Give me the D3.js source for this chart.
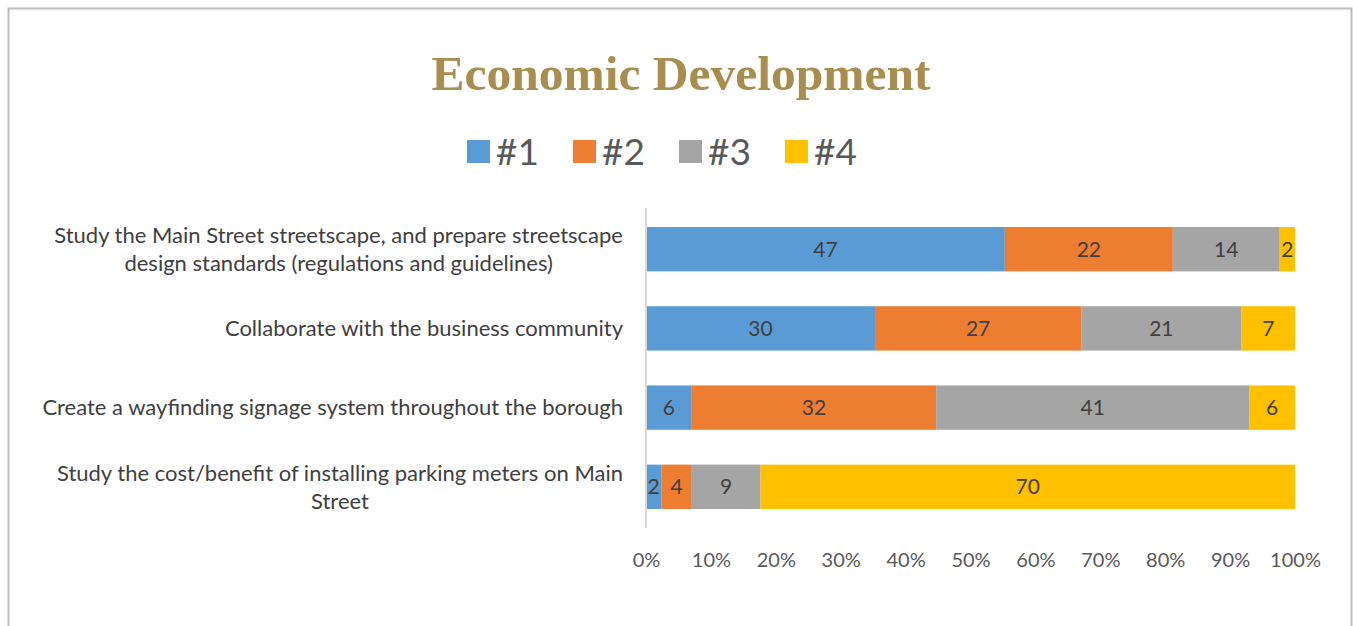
<!DOCTYPE html>
<html>
<head>
<meta charset="utf-8">
<script src="https://cdn.jsdelivr.net/npm/d3@7"></script>
<style>
  body { margin: 0; background: #fff; }
  text { font-family: Lato, "Open Sans", sans-serif; }
</style>
</head>
<body>
<div id="chart"></div>
<script>
var w = 1353, h = 626;

// data
var categories = [
  ["Study the Main Street streetscape, and prepare streetscape", "design standards (regulations and guidelines)"],
  ["Collaborate with the business community"],
  ["Create a wayfinding signage system throughout the borough"],
  ["Study the cost/benefit of installing parking meters on Main", "Street"]
];
var seriesNames = ["#1", "#2", "#3", "#4"];
var rank1 = [47, 30, 6, 2];
var rank2 = [22, 27, 32, 4];
var rank3 = [14, 21, 41, 9];
var rank4 = [2, 7, 6, 70];
var tickValues = [0, 0.1, 0.2, 0.3, 0.4, 0.5, 0.6, 0.7, 0.8, 0.9, 1];
var colors = ["#5b9bd5", "#ed7d31", "#a5a5a5", "#ffc000"];

var svg = d3.select("#chart").append("svg")
    .attr("width", w)
    .attr("height", h);

// frame
svg.append("path")
    .attr("d", "M8.5," + h + "V8.5H1351.5V" + h)
    .attr("fill", "none")
    .attr("stroke", "#bfbfbf")
    .attr("stroke-width", 2);

// title
svg.append("text")
    .attr("x", 681)
    .attr("y", 90)
    .attr("text-anchor", "middle")
    .style("font-family", "'Liberation Serif', serif")
    .style("font-weight", "bold")
    .style("font-size", "49.5px")
    .attr("fill", "#a88d4e")
    .text("Economic Development");

// build rows
var rows = categories.map(function(c, i) {
  var vals = [rank1[i], rank2[i], rank3[i], rank4[i]];
  var total = d3.sum(vals);
  var acc = 0;
  return vals.map(function(v, k) {
    var seg = {row: i, k: k, v: v, x0: acc / total, x1: (acc + v) / total};
    acc += v;
    return seg;
  });
});

var x = d3.scaleLinear().domain([0, 1]).range([646, 1295]);
var y = d3.scaleBand().domain(d3.range(categories.length)).range([208, 528]).paddingInner(0.44).paddingOuter(0.24);

// legend
var legend = svg.append("g").selectAll("g")
    .data(seriesNames)
    .enter().append("g")
    .attr("transform", function(d, i) { return "translate(" + (467 + i * 106) + ",140)"; });
legend.append("rect")
    .attr("width", 23).attr("height", 23)
    .attr("fill", function(d, i) { return colors[i]; });
legend.append("text")
    .attr("x", 29).attr("y", 24.5)
    .style("font-size", "37px")
    .attr("fill", "#595959")
    .text(function(d) { return d; });

// bars
var segs = [].concat.apply([], rows);
svg.append("g").selectAll("rect")
    .data(segs)
    .enter().append("rect")
    .attr("x", function(d) { return x(d.x0); })
    .attr("width", function(d) { return x(d.x1) - x(d.x0); })
    .attr("y", function(d) { return y(d.row); })
    .attr("height", y.bandwidth())
    .attr("fill", function(d) { return colors[d.k]; });

svg.append("g").selectAll("text")
    .data(segs)
    .enter().append("text")
    .attr("x", function(d) { return (x(d.x0) + x(d.x1)) / 2; })
    .attr("y", function(d) { return y(d.row) + y.bandwidth() / 2; })
    .attr("dy", "0.35em")
    .attr("text-anchor", "middle")
    .style("font-size", "21px")
    .attr("fill", "#404040")
    .text(function(d) { return d.v; });

// category axis line
svg.append("line")
    .attr("x1", 646).attr("x2", 646)
    .attr("y1", 208).attr("y2", 528)
    .attr("stroke", "#d9d9d9")
    .attr("stroke-width", 2);

// category labels, wrapped lines centered on each other and right-aligned as a block
var labels = svg.append("g").selectAll("g")
    .data(categories)
    .enter().append("g");
labels.each(function(lines, i) {
  var g = d3.select(this);
  var cy = y(i) + y.bandwidth() / 2;
  var t = g.selectAll("text").data(lines).enter().append("text")
      .style("font-size", "22px")
      .attr("fill", "#404040")
      .attr("text-anchor", "middle")
      .attr("dy", "0.35em")
      .attr("y", function(d, j) { return cy + (j - (lines.length - 1) / 2) * 28; })
      .text(function(d) { return d; });
  var maxW = 0;
  t.each(function() { maxW = Math.max(maxW, this.getComputedTextLength()); });
  t.attr("x", 623 - maxW / 2);
});

// x axis
var xAxis = d3.axisBottom(x).tickValues(tickValues).tickFormat(d3.format(".0%")).tickSize(0).tickPadding(0);
var ax = svg.append("g")
    .attr("transform", "translate(0,553)")
    .call(xAxis);
ax.select(".domain").remove();
ax.selectAll("text")
    .style("font-family", "Lato, sans-serif")
    .style("font-size", "20px")
    .attr("fill", "#595959");
</script>
</body>
</html>
